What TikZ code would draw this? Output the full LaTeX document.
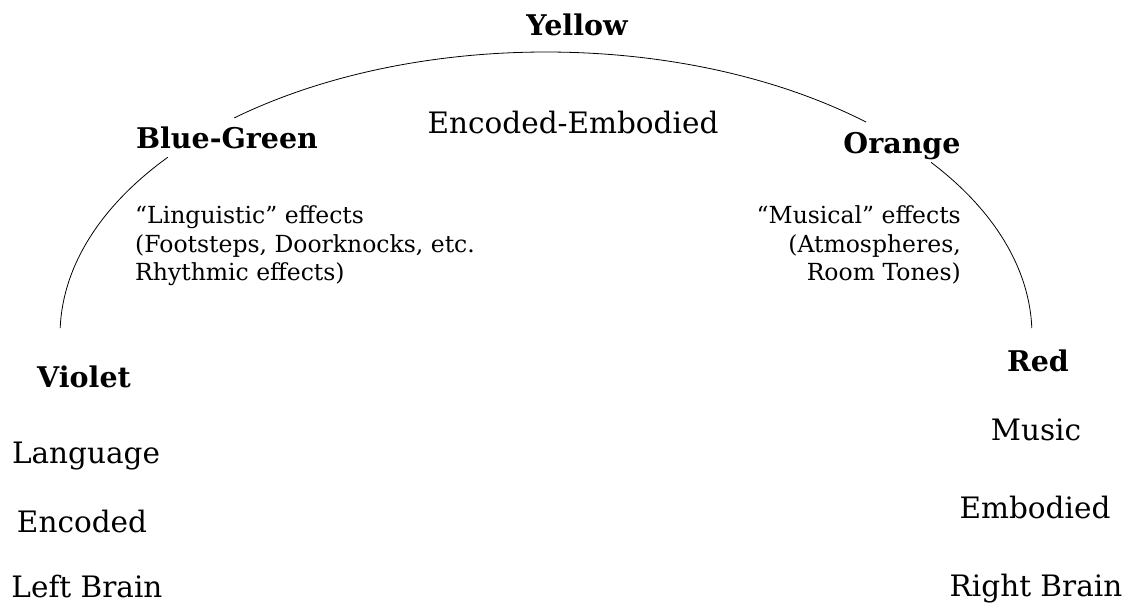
\documentclass[tikz,border=0pt]{standalone}
\usepackage{fontspec}
\setmainfont{DejaVu Serif}
\tikzset{
  lbl/.style={inner sep=0pt, anchor=base, font=\fontsize{29.5pt}{34pt}\selectfont},
  head/.style={inner sep=0pt, anchor=base, font=\fontsize{28.5pt}{32pt}\selectfont\bfseries},
  small/.style={inner sep=0pt, font=\fontsize{23.5pt}{28pt}\selectfont},
  arcline/.style={line width=0.8pt, black}
}
\begin{document}
\begin{tikzpicture}[x=1pt,y=-1pt]
\useasboundingbox (0,0) rectangle (1129,602);
% headings
\node[head] (yellow) at (577,36) {Yellow};
\node[head] (bluegreen) at (227,148) {Blue-Green};
\node[head] (orange) at (902,153) {Orange};
\node[head] (violet) at (84,387) {Violet};
\node[head] (red) at (1038,371) {Red};
% centre label
\node[lbl] (encemb) at (573,133) {Encoded-Embodied};
% left column
\node[lbl] (language) at (86,463) {Language};
\node[lbl] (encoded) at (82,532) {Encoded};
\node[lbl] (leftbrain) at (87,597) {Left Brain};
% right column
\node[lbl] (music) at (1036,440) {Music};
\node[lbl] (embodied) at (1035,518) {Embodied};
\node[lbl] (rightbrain) at (1036,596) {Right Brain};
% small blocks
\node[small, anchor=base west] (ling1) at (135,223) {“Linguistic” effects};
\node[small, anchor=base west] (ling2) at (135,252) {(Footsteps, Doorknocks, etc.};
\node[small, anchor=base west] (ling3) at (135,280) {Rhythmic effects)};
\node[small, anchor=base east] (mus1) at (961,223) {“Musical” effects};
\node[small, anchor=base east] (mus2) at (961,252) {(Atmospheres,};
\node[small, anchor=base east] (mus3) at (961,280) {Room Tones)};
% the arc (one ellipse, broken at the labels)
\coordinate (c) at (546,335);
\draw[arcline] ([shift={(48.8:486pt and 283pt)}]c) arc[start angle=48.8, end angle=129.9, x radius=486pt, y radius=283pt];
\draw[arcline] ([shift={(141.1:486pt and 283pt)}]c) arc[start angle=141.1, end angle=178.6, x radius=486pt, y radius=283pt];
\draw[arcline] ([shift={(37.6:486pt and 283pt)}]c) arc[start angle=37.6, end angle=1.4, x radius=486pt, y radius=283pt];
\end{tikzpicture}
\end{document}
